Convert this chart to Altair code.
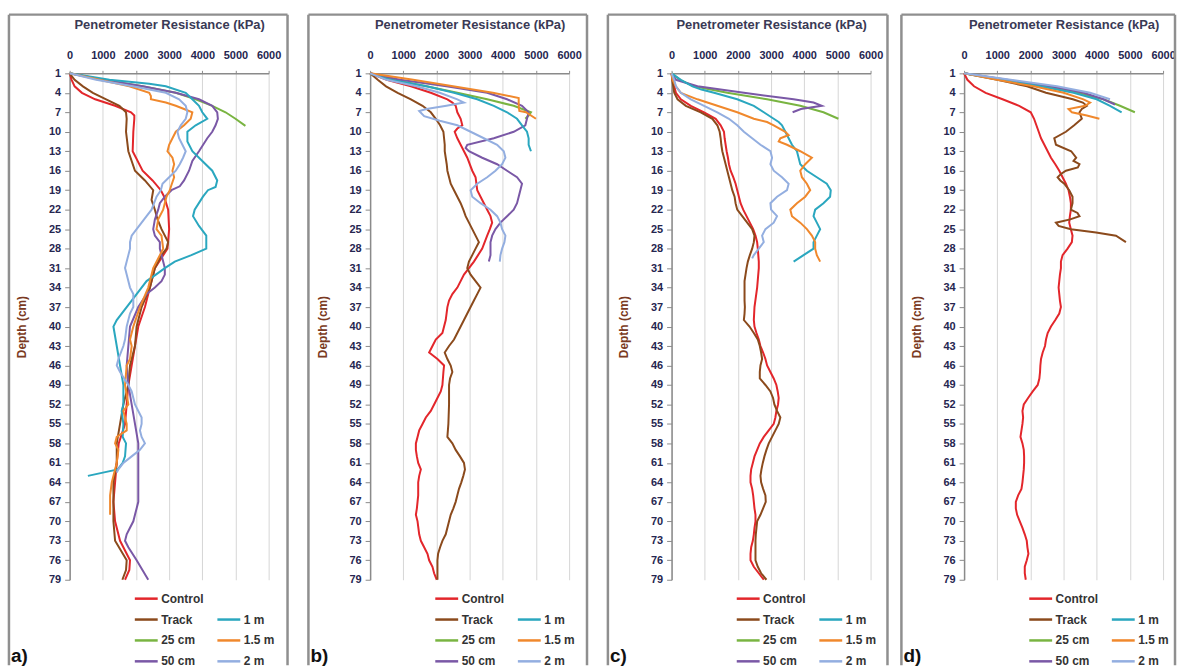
import altair as alt
import pandas as pd

FONT = "Liberation Sans"

SERIES = ["Control", "Track", "25 cm", "50 cm", "1 m", "1.5 m", "2 m"]
# legend fills column by column: left column Control..50 cm, right column (blank), 1 m, 1.5 m, 2 m
LEGEND_ORDER = ["Control", "Track", "25 cm", "50 cm", " ", "1 m", "1.5 m", "2 m"]
LEGEND_COLORS = ["#e3262b", "#8b4a1c", "#79b441", "#7a58a6", "#ffffff", "#2aa7bf", "#f0882c", "#93aee0"]
X_TICKS = [0, 1000, 2000, 3000, 4000, 5000, 6000]
DEPTH_TICKS = [1, 4, 7, 10, 13, 16, 19, 22, 25, 28, 31, 34, 37, 40, 43, 46, 49, 52, 55, 58, 61, 64, 67, 70, 73, 76, 79]
PANEL_LABELS = ["a)", "b)", "c)", "d)"]

# ---------------- panel a ----------------
A_CONTROL = [(1,0),(2,60),(3,150),(4,370),(5,770),(6,1370),(7,1850),(7.5,1950),(8,1950),(10,1920),(13,1900),(16,2200),(17.5,2500),(19,2750),(20,2850),(22,2970),(25,3000),(28,2950),(31,2570),(34,2420),(37,2270),(40,2070),(43,1970),(46,1870),(49,1770),(52,1720),(55,1670),(58,1480),(61,1420),(64,1370),(67,1320),(70,1370),(73,1520),(76,1820),(77.5,1800),(79,1670)]
A_TRACK = [(1,0),(2,150),(3,400),(4,700),(5,1100),(6,1500),(7,1700),(8,1720),(10,1700),(13,1770),(16,1970),(17.5,2270),(19,2520),(20.5,2470),(22,2570),(23.5,2650),(25,2770),(27,2970),(28,2920),(29,2770),(31,2570),(34,2420),(37,2170),(40,2020),(43,1970),(46,1820),(49,1770),(52,1620),(55,1520),(58,1420),(61,1420),(64,1320),(67,1320),(70,1320),(73,1370),(76,1720),(77.5,1700),(79,1590)]
A_25CM = [(1,0),(2,1000),(3,2200),(4,3200),(5,3800),(6,4300),(7,4700),(8,5000),(9.1,5300)]
A_50CM = [(1,0),(2,1000),(3,2200),(4,3200),(5,3900),(6,4300),(7,4450),(8,4470),(9,4400),(10,4300),(11,4150),(13,3900),(14.5,3700),(16,3600),(17.5,3450),(18.4,3320),(19,3070),(20,2870),(21,2720),(22,2670),(23.5,2570),(25,2520),(26,2570),(27,2720),(28,2720),(30,2820),(31,2870),(32,2870),(33,2770),(34,2570),(35,2320),(37,2070),(40,1820),(43,1770),(46,1720),(49,1770),(52,1870),(55,1970),(58,2070),(61,2070),(64,2070),(67,2070),(69,1970),(70,1920),(71,1820),(72,1720),(73,1670),(74,1770),(76,2020),(79,2370)]
A_1M = [(1,0),(2,1200),(2.6,2400),(3,2900),(4,3500),(5,3700),(6,3900),(7,4000),(8,4150),(9,3800),(10,3550),(11.5,3550),(13,3700),(14.5,4000),(16,4300),(17.5,4450),(18.5,4400),(19,4170),(20,4020),(22,3770),(23,3720),(24.5,3900),(26,4120),(28,4120),(29,3670),(30,3170),(31,2870),(32,2600),(33,2320),(35,2020),(37,1720),(39,1420),(40,1320),(41.5,1370),(43,1420),(46,1520),(49,1620),(52,1620),(53,1570),(55,1620),(57,1600),(58,1700),(60,1670),(61,1600),(62,1450),(63,550)]
A_15M = [(1,0),(2,900),(3,1800),(4,2400),(4.5,2450),(5,2450),(5.5,2900),(6,3200),(6.5,3450),(7,3700),(8,3650),(9,3450),(10,3200),(11,3100),(12,3000),(13,2950),(14,3100),(15,3150),(16,3100),(17,3150),(18.5,3050),(19,3020),(20,2920),(22,2820),(23.5,2670),(25,2620),(26,2770),(28,2820),(29,2720),(31,2520),(34,2370),(37,2120),(40,1920),(42,1820),(43,1870),(45,1820),(46,1720),(49,1670),(52,1770),(53,1620),(55,1720),(56,1720),(57,1420),(58,1370),(59,1470),(61,1420),(64,1270),(66,1220),(68,1220),(69,1220)]
A_2M = [(1,0),(2,800),(3,1900),(4,2900),(5,3300),(6,3500),(7,3550),(8,3500),(9,3350),(10,3250),(11,3300),(12,3400),(13,3500),(14,3420),(15,3320),(16,3200),(17,3000),(18,2800),(19,2750),(20,2620),(22,2470),(23,2320),(24,2170),(25,2020),(26,1870),(27,1820),(28,1820),(29,1770),(30,1720),(31,1670),(32,1720),(34,1820),(35,1920),(37,1920),(38,1820),(40,1720),(42,1670),(43,1620),(45,1470),(46,1420),(47,1520),(49,1770),(50,1870),(52,1970),(53,2070),(54,2170),(55,2170),(56,2120),(57,2170),(58,2270),(59,2120),(60,1870),(61,1620),(62,1470),(62.5,1420)]

# ---------------- panel b ----------------
B_CONTROL = [(1,0),(2,500),(3,1230),(4,1830),(5,2330),(5.5,2480),(6,2580),(7,2630),(8,2730),(9,2780),(9.5,2630),(10,2550),(11,2630),(12,2730),(13,2830),(14,2930),(16,3080),(17,3180),(19,3230),(20,3330),(21,3430),(22,3530),(23,3630),(24,3680),(25,3610),(26,3530),(28,3380),(30,3130),(31,2980),(32,2830),(34,2630),(35,2480),(36,2380),(37,2330),(39,2280),(40,2230),(41,2180),(42,1980),(43,1880),(44,1780),(45,2030),(46,2230),(47,2210),(49,2180),(50,2130),(52,1930),(53,1830),(54,1680),(55,1580),(56,1480),(57,1430),(58,1380),(59,1380),(60,1410),(61,1450),(62,1530),(63,1480),(64,1450),(66,1450),(67,1430),(68,1410),(69,1380),(70,1430),(72,1480),(73,1530),(74,1630),(75,1730),(76,1780),(77,1880),(78,1930),(79,2010)]
B_TRACK = [(1,0),(2,230),(3,480),(4,830),(5,1230),(6,1580),(7,1830),(8,1980),(9,2110),(10,2210),(11,2230),(12,2250),(13,2250),(14,2280),(15,2310),(16,2330),(17,2380),(18,2430),(19,2530),(20,2630),(21,2730),(22,2810),(23,2880),(24,2980),(25,3080),(26,3180),(27,3280),(28,3180),(29,3080),(30,2980),(31,2930),(32,3030),(33,3180),(34,3330),(35,3230),(36,3130),(37,3030),(38,2930),(39,2830),(40,2730),(41,2630),(42,2530),(43,2380),(44,2250),(45,2330),(46,2430),(47,2480),(48,2410),(49,2380),(52,2380),(55,2360),(57,2330),(58,2480),(59,2580),(60,2710),(61,2830),(62,2860),(63,2810),(64,2750),(65,2680),(66,2630),(67,2580),(68,2510),(69,2430),(70,2380),(72,2280),(73,2180),(74,2110),(75,2050),(76,2030),(79,2030)]
B_25CM = [(1,0),(2,700),(3,1700),(4,2630),(5,3530),(6,4330),(7,4850),(7.5,4780),(8,4680)]
B_50CM = [(1,0),(2,900),(3,2300),(4,3530),(5,4130),(6,4580),(7,4780),(8,4730),(9,4680),(10,4330),(11,3730),(12,2930),(12.5,2880),(13,2980),(14,3380),(15,3830),(16,4130),(17,4430),(18,4580),(19,4530),(20,4480),(21,4430),(22,4330),(23,4130),(24,3930),(25,3780),(26,3680),(27,3630),(28,3630),(29,3630),(30,3580)]
B_1M = [(1,0),(2,600),(3,1700),(4,2530),(5,3230),(6,3730),(7,4130),(8,4430),(9,4580),(10,4730),(11,4780),(12,4780),(13,4850)]
B_15M = [(1,0),(2,1300),(3,2500),(4,3700),(4.8,4480),(5,4480),(6,4480),(6.8,4500),(7,4700),(8,5000)]
B_2M = [(1,0),(2,500),(3,1400),(4,2100),(5,2630),(5.5,2830),(6,2300),(6.5,1700),(6.8,1480),(7.6,1630),(8.3,2100),(9,2630),(10,3030),(11,3430),(12,3830),(13,4030),(14,4080),(15,3980),(16,3780),(17,3530),(18,3230),(19,3030),(20,3080),(21,3330),(22,3630),(23,3830),(24,3930),(25,3980),(26,4080),(27,4050),(28,3980),(29,3930),(30,3910)]

# ---------------- panel c ----------------
C_CONTROL = [(1,0),(2,30),(3,80),(4,130),(5,280),(6,580),(7,980),(8,1330),(9,1480),(10,1580),(11,1600),(12,1630),(13,1660),(14,1700),(15,1730),(16,1780),(17,1860),(18,1930),(19,1980),(20,2030),(21,2080),(22,2160),(23,2260),(24,2360),(25,2460),(26,2530),(27,2580),(28,2600),(30,2630),(31,2630),(34,2580),(37,2500),(39,2480),(40,2500),(41,2560),(42,2630),(43,2680),(44,2760),(45,2830),(46,2880),(47,2980),(48,3080),(49,3160),(50,3200),(51,3230),(52,3210),(53,3160),(54,3130),(55,3080),(56,2930),(57,2780),(58,2660),(59,2580),(60,2500),(61,2450),(62,2400),(63,2380),(64,2380),(65,2430),(66,2460),(67,2480),(68,2500),(69,2530),(70,2530),(71,2500),(72,2480),(73,2450),(74,2400),(75,2380),(76,2380),(77,2480),(78,2630),(79,2780)]
C_TRACK = [(1,0),(2,20),(3,50),(4,80),(5,180),(6,430),(7,880),(8,1230),(9,1380),(10,1450),(11,1480),(12,1500),(13,1530),(14,1580),(15,1630),(16,1680),(17,1730),(18,1780),(19,1830),(20,1900),(21,1930),(22,1980),(23,2130),(24,2280),(25,2430),(26,2500),(27,2480),(28,2430),(29,2360),(30,2300),(31,2260),(32,2230),(33,2200),(34,2200),(36,2200),(37,2210),(38,2200),(39,2180),(40,2350),(41,2480),(42,2600),(43,2660),(44,2700),(45,2730),(46,2680),(47,2660),(48,2660),(49,2830),(50,2980),(51,3060),(52,3100),(53,3180),(54,3280),(55,3230),(56,3130),(57,3030),(58,2930),(59,2860),(60,2800),(61,2750),(62,2710),(63,2680),(64,2700),(65,2760),(66,2830),(67,2840),(68,2760),(69,2680),(70,2580),(71,2560),(72,2540),(73,2530),(76,2530),(77,2600),(78,2700),(79,2860)]
C_25CM = [(1,0),(2,250),(3,680),(4,1680),(5,2880),(6,3880),(7,4580),(8,5030)]
C_50CM = [(1,0),(2,130),(3,780),(4,2180),(5,3680),(5.5,4280),(6,4530),(6.5,3900),(7,3650)]
C_1M = [(1,0),(2,280),(3,630),(3.5,900),(4,1280),(5,1980),(6,2480),(7,2780),(8,3080),(8.5,3230),(9,3330),(10,3430),(11,3530),(12,3630),(13,3780),(14,3830),(15,3880),(16,4080),(17,4380),(18,4680),(19,4800),(20,4780),(21,4580),(22,4330),(23,4280),(24,4380),(25,4480),(26,4380),(27,4280),(28,4280),(29,3980),(30,3680)]
C_15M = [(1,0),(2,30),(3,130),(4,280),(5,780),(6,1380),(7,1980),(8,2480),(8.5,2880),(9,3080),(10,3430),(10.5,3530),(11,3280),(11.5,3230),(12,3480),(13,3880),(14,4230),(15,4030),(16,3880),(17,3930),(18,4080),(19,4180),(20,4030),(21,3780),(22,3580),(23,3630),(24,3880),(25,4080),(26,4230),(27,4330),(28,4330),(29,4380),(30,4480)]
C_2M = [(1,0),(2,80),(3,130),(4,280),(5,580),(6,980),(7,1380),(8,1730),(9,1980),(10,2180),(11,2430),(12,2680),(13,2980),(14,3030),(15,2980),(16,3080),(17,3330),(18,3530),(19,3480),(20,3180),(21,2980),(22,3000),(23,3180),(24,3080),(25,2830),(26,2730),(27,2780),(28,2630),(29,2480),(29.5,2430)]

# ---------------- panel d ----------------
D_CONTROL = [(1,0),(2,100),(3,300),(4,650),(5,1160),(6,1660),(7,2010),(8,2110),(9,2180),(10,2250),(11,2320),(12,2420),(13,2520),(14,2620),(15,2750),(16,2870),(17,2970),(18,3070),(19,3150),(20,3190),(21,3220),(22,3220),(23,3190),(24,3170),(25,3220),(26,3270),(27,3250),(28,3120),(29,2970),(30,2920),(31,2920),(32,2890),(33,2870),(34,2850),(35,2870),(36,2890),(37,2920),(38,2870),(39,2750),(40,2620),(41,2520),(42,2470),(43,2440),(44,2370),(45,2320),(46,2300),(47,2290),(48,2270),(49,2220),(50,2070),(51,1930),(52,1800),(53,1760),(54,1780),(55,1760),(56,1730),(57,1700),(58,1760),(59,1800),(60,1810),(61,1810),(62,1800),(63,1780),(64,1760),(65,1730),(66,1630),(67,1560),(68,1560),(69,1600),(70,1680),(71,1760),(72,1830),(73,1890),(74,1910),(75,1940),(76,1890),(77,1830),(78,1830),(79,1860)]
D_TRACK = [(1,0),(2,1000),(3,1900),(4,2470),(5,3280),(5.5,3580),(6,3700),(6.5,3550),(7,3480),(8,3550),(9,3320),(10,3070),(11,2720),(12,2770),(13,3230),(14,3380),(14.5,3300),(15,3480),(15.5,3430),(16,3070),(16.5,2920),(17,2820),(17.5,2900),(18,3020),(19,3170),(20,3270),(21,3270),(22,3220),(22.5,3420),(23,3480),(23.5,3200),(24,2770),(24.5,2850),(25,3220),(25.5,3980),(26,4580),(27,4880)]
D_25CM = [(1,0),(2,1200),(3,2400),(4,3400),(5,4200),(6,4700),(7,5150)]
D_50CM = [(1,0),(2,1300),(3,2600),(4,3600),(5,4200),(5.8,4550)]
D_1M = [(1,0),(2,1100),(3,2300),(4,3300),(5,4000),(6,4400),(7,4750)]
D_15M = [(1,0),(2,1000),(3,2100),(4,3000),(5,3600),(5.5,3800),(6,3650),(6.5,3150),(7,3250),(7.5,3700),(8,4080)]
D_2M = [(1,0),(2,1400),(3,2800),(4,3800),(5,4400)]

PANELS = [
    [A_CONTROL, A_TRACK, A_25CM, A_50CM, A_1M, A_15M, A_2M],
    [B_CONTROL, B_TRACK, B_25CM, B_50CM, B_1M, B_15M, B_2M],
    [C_CONTROL, C_TRACK, C_25CM, C_50CM, C_1M, C_15M, C_2M],
    [D_CONTROL, D_TRACK, D_25CM, D_50CM, D_1M, D_15M, D_2M],
]

# frame extents relative to each plot area (left, right)
FRAME_X = [(-61, 219), (-62, 218), (-64, 217), (-63, 212)]
FRAME_C = "#8f8f8f"
TICK_C = "#262650"


def make_df(series_lists):
    rows = []
    for name, pts in zip(SERIES, series_lists):
        for d, v in pts:
            rows.append({"series": name, "depth": d, "kpa": v})
    return pd.DataFrame(rows)


def panel(i):
    df = make_df(PANELS[i])
    lines = alt.Chart(df).mark_line(strokeWidth=2).encode(
        x=alt.X("kpa:Q",
                scale=alt.Scale(domain=[0, 6000], nice=False, zero=True),
                axis=alt.Axis(orient="top", values=X_TICKS, title="Penetrometer Resistance (kPa)",
                              format="d", labelOverlap=False, labelFlush=False,
                              labelFont=FONT, labelFontSize=11, labelFontWeight="bold", labelColor=TICK_C,
                              labelPadding=10, tickSize=3, tickColor="#8a8a8a", domainColor="#8a8a8a",
                              domainWidth=1.5, grid=True, gridColor="#d6d6d6", gridWidth=1,
                              titleFont=FONT, titleFontSize=13, titleFontWeight="bold", titleColor="#3a3a55",
                              titlePadding=18)),
        y=alt.Y("depth:Q",
                scale=alt.Scale(domain=[1, 79], reverse=True, nice=False, zero=False),
                axis=alt.Axis(values=DEPTH_TICKS, title="Depth (cm)", labelOverlap=False, labelFlush=False,
                              labelFont=FONT, labelFontSize=11, labelFontWeight="bold", labelColor=TICK_C,
                              labelPadding=4, tickSize=5, tickColor="#8a8a8a", domainColor="#8a8a8a",
                              domainWidth=1.5, grid=False,
                              titleFont=FONT, titleFontSize=12, titleFontWeight="bold", titleColor="#7a3a22",
                              titlePadding=20)),
        color=alt.Color("series:N",
                        scale=alt.Scale(domain=LEGEND_ORDER, range=LEGEND_COLORS),
                        legend=alt.Legend(orient="none", legendX=64, legendY=515, columns=2, title=None,
                                          symbolType="stroke", symbolSize=529, symbolStrokeWidth=2.5,
                                          labelFont=FONT, labelFontSize=12, labelFontWeight="bold",
                                          labelColor="#333333", rowPadding=2, columnPadding=8,
                                          labelOffset=2, symbolOffset=0, padding=0)),
        order=alt.Order("depth:Q"),
    )
    one = alt.Chart(pd.DataFrame({"k": [0]}))
    fl, fr = FRAME_X[i]
    left = one.mark_rule(color=FRAME_C, strokeWidth=2.5).encode(
        x=alt.value(fl), y=alt.value(-59), y2=alt.value(595))
    top = one.mark_rule(color=FRAME_C, strokeWidth=2.5).encode(
        x=alt.value(fl), x2=alt.value(fr), y=alt.value(-59))
    right = one.mark_rule(color=FRAME_C, strokeWidth=2.5).encode(
        x=alt.value(fr), y=alt.value(-59), y2=alt.value(595))
    label = one.mark_text(text=PANEL_LABELS[i], align="left", baseline="bottom", fontSize=19,
                          fontWeight="bold", font=FONT, color="#111111").encode(
        x=alt.value(fl + 2), y=alt.value(596))
    return alt.layer(lines, left, top, right, label).properties(width=200, height=509)


inner = alt.hconcat(panel(0), panel(1), panel(2), spacing=17).resolve_scale(color="independent")
chart = alt.hconcat(inner, panel(3), spacing=10).resolve_scale(color="independent").properties(
    padding={"left": 7, "top": 11, "right": 0, "bottom": 0},
    background="white",
).configure_view(stroke=None)

chart.save("out.html", embed_options={"renderer": "svg", "actions": False})
